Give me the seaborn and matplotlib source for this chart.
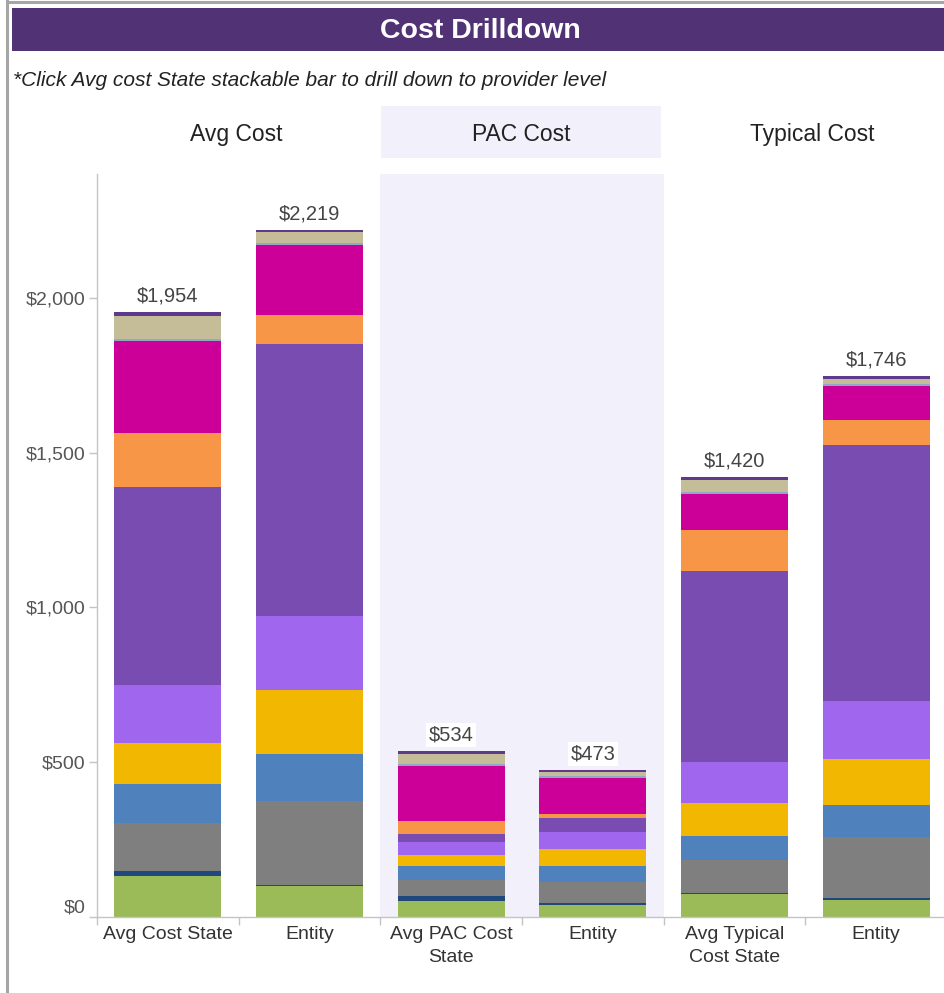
import numpy as np
import matplotlib
matplotlib.use("Agg")
import matplotlib.pyplot as plt
from matplotlib.patches import Rectangle
from matplotlib.lines import Line2D
from matplotlib.ticker import FuncFormatter, FixedLocator
import seaborn as sns

# ---- data ---------------------------------------------------------------
bar_keys = ["avg_state", "avg_entity", "pac_state", "pac_entity", "typ_state", "typ_entity"]
bar_labels = ["Avg Cost State", "Entity", "Avg PAC Cost\nState", "Entity",
              "Avg Typical\nCost State", "Entity"]
facet_titles = ["Avg Cost", "PAC Cost", "Typical Cost"]

# stacked cost components, listed bottom to top
seg_green = [131, 100, 50, 38, 73, 54]
seg_navy = [17, 4, 17, 7, 5, 5]
seg_gray = [155, 269, 53, 68, 104, 197]
seg_blue = [126, 154, 45, 52, 80, 104]
seg_gold = [133, 205, 34, 53, 105, 151]
seg_lilac = [186, 240, 43, 57, 132, 185]
seg_purple = [641, 878, 25, 45, 618, 828]
seg_orange = [173, 93, 42, 13, 133, 80]
seg_magenta = [299, 229, 178, 115, 117, 110]
seg_steel = [5, 5, 5, 6, 5, 6]
seg_tan = [75, 36, 35, 13, 39, 18]
seg_plum = [13, 6, 7, 6, 9, 8]

segments = [seg_green, seg_navy, seg_gray, seg_blue, seg_gold, seg_lilac,
            seg_purple, seg_orange, seg_magenta, seg_steel, seg_tan, seg_plum]
segment_colors = ["#9BBB59", "#1F497D", "#7F7F7F", "#4F81BD", "#F2B700", "#A066EE",
                  "#794CB1", "#F79646", "#CC0099", "#8FA9C9", "#C4BD97", "#5E3A8C"]

# ---- figure -------------------------------------------------------------
W, H = 944, 993
sns.set_style("white")
plt.rcParams["font.family"] = ["Liberation Sans", "DejaVu Sans"]

fig = plt.figure(figsize=(W / 100, H / 100), dpi=100)
fig.patch.set_facecolor("white")


def fx(x):
    return x / W


def fy(y):
    return 1 - y / H


# dashboard frame and title banner
fig.add_artist(Line2D([fx(7), fx(7)], [0, 1], color="#a6a6a6", lw=2.2))
fig.add_artist(Line2D([fx(7), 1], [fy(2), fy(2)], color="#a6a6a6", lw=2.2))
fig.add_artist(Rectangle((fx(12), fy(51)), fx(944 - 12), 43 / H,
                         transform=fig.transFigure, facecolor="#513275", edgecolor="none"))
fig.text(fx(480), fy(31), "Cost Drilldown", color="white", fontsize=20.5,
         fontweight="bold", ha="center", va="center")
fig.text(fx(13), fy(80), "*Click Avg cost State stackable bar to drill down to provider level",
         color="#222222", fontsize=15, style="italic", ha="left", va="center")

# facet headers
fig.add_artist(Rectangle((fx(381), fy(158)), fx(661 - 381), 52 / H,
                         transform=fig.transFigure, facecolor="#F2F0FA", edgecolor="none"))
for cx, title in zip([236, 521, 812], facet_titles):
    fig.text(fx(cx), fy(134), title, color="#222222", fontsize=16.5,
             ha="center", va="center")

# ---- plot area ----------------------------------------------------------
left, right, top, bottom = 97, 947, 174, 916.7
ax = fig.add_axes([fx(left), fy(bottom), (right - left) / W, (bottom - top) / H])
ax.set_facecolor("white")
ax.axvspan(1.5, 3.5, color="#F2F0FA", zorder=0, lw=0)

cum = np.cumsum(np.array(segments), axis=0)
for j in reversed(range(len(segments))):
    sns.barplot(x=bar_keys, y=cum[j], order=bar_keys, color=segment_colors[j],
                saturation=1, width=0.755, linewidth=0, errorbar=None, ax=ax, zorder=2)

totals = cum[-1]
for i, t in enumerate(totals):
    ax.text(i, t + 22, f"${t:,.0f}", ha="center", va="bottom", fontsize=14.5,
            color="#444444", zorder=3,
            bbox=dict(boxstyle="square,pad=0.12", facecolor="white", edgecolor="none"))

ax.set_xlim(-0.5, 5.5)
ax.set_ylim(0, 2400)
ax.set_xlabel("")
ax.set_ylabel("")

ax.yaxis.set_major_locator(FixedLocator([0, 500, 1000, 1500, 2000]))
ax.yaxis.set_major_formatter(FuncFormatter(lambda v, _: f"${v:,.0f}"))
ax.tick_params(axis="y", length=5.5, width=1, color="#c4c4c4", pad=3,
               labelsize=14, labelcolor="#555555", left=True)

ax.set_xticks(range(len(bar_keys)))
ax.set_xticklabels(bar_labels, linespacing=1.4)
ax.set_xticks(np.arange(-0.5, 6.0, 1.0), minor=True)
ax.tick_params(axis="x", which="major", length=0, pad=7, labelsize=14,
               labelcolor="#333333")
ax.tick_params(axis="x", which="minor", length=5.5, width=1, color="#c4c4c4", bottom=True)

# keep the bottom y label flush above the baseline
fig.canvas.draw()
ylabels = ax.get_yticklabels()
ylabels[0].set_va("bottom")

for side in ["top", "right"]:
    ax.spines[side].set_visible(False)
for side in ["left", "bottom"]:
    ax.spines[side].set_color("#c4c4c4")
    ax.spines[side].set_linewidth(1)

fig.savefig("out.png", dpi=100, facecolor="white")
